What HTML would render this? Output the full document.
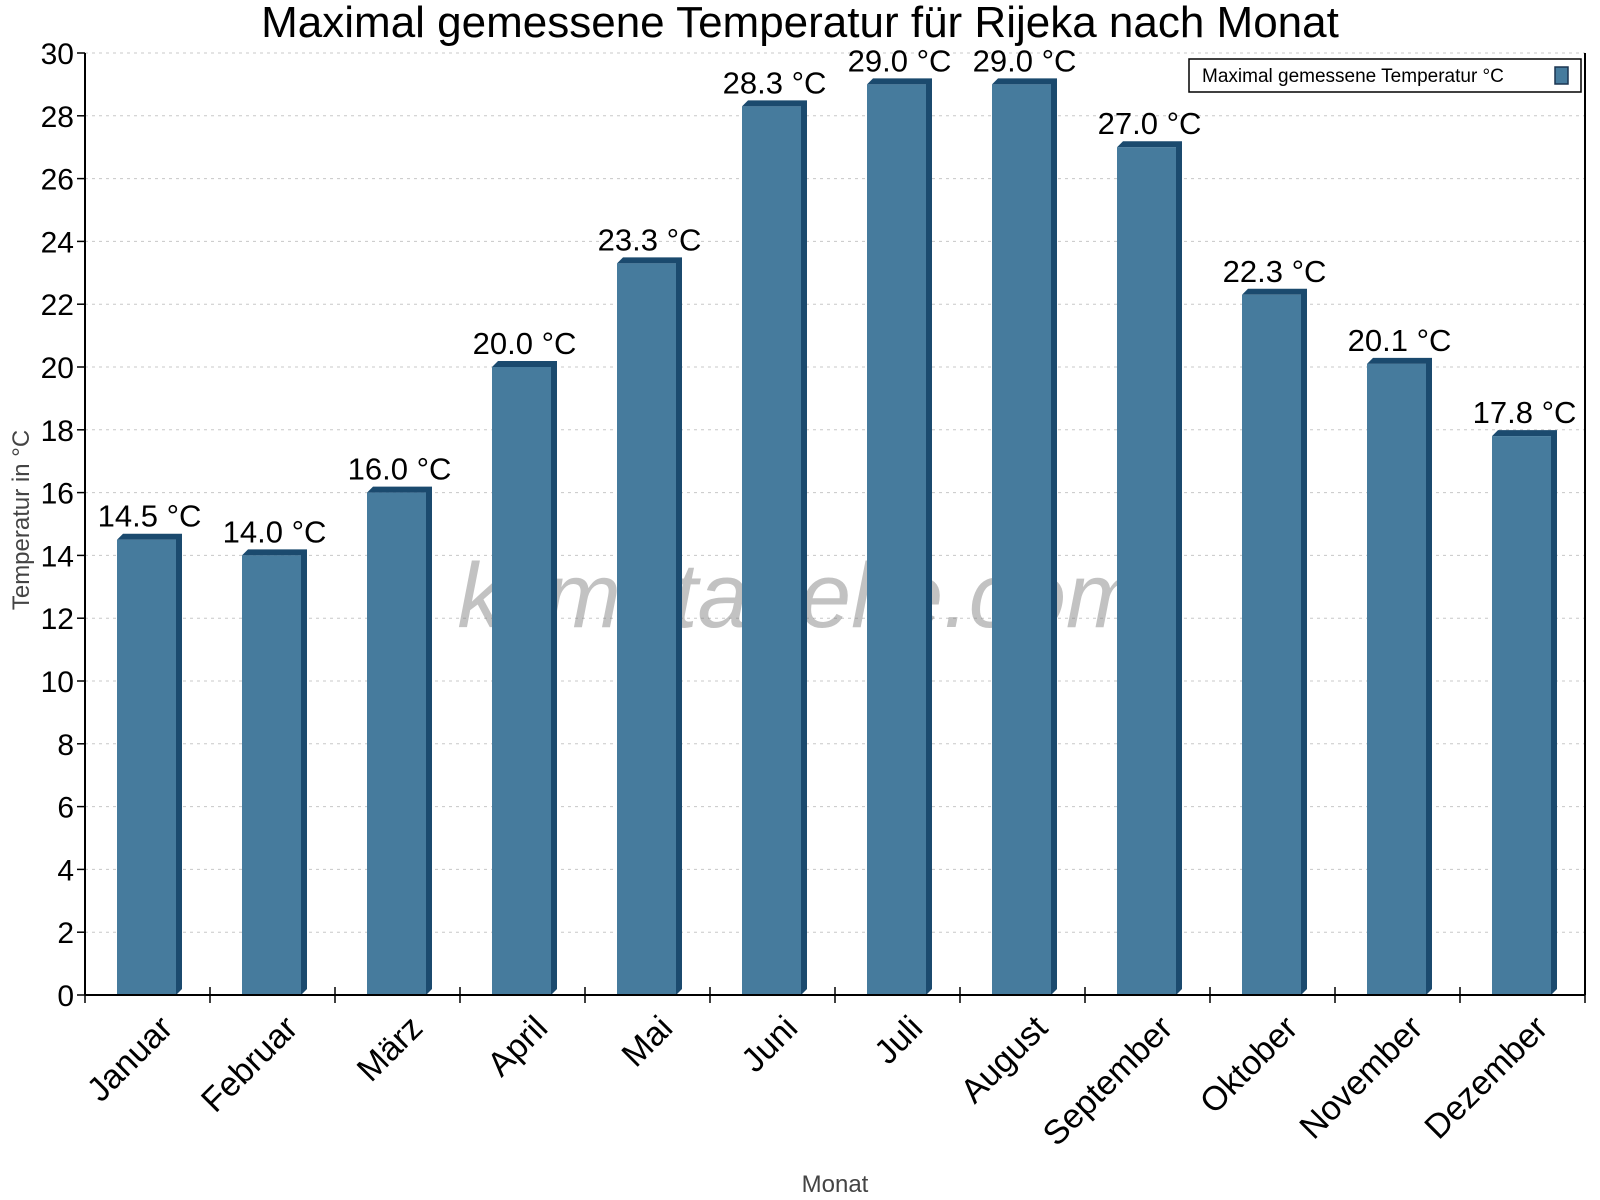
<!DOCTYPE html>
<html><head><meta charset="utf-8"><style>
html,body{margin:0;padding:0;background:#fff;}
svg{display:block;font-family:"Liberation Sans",sans-serif;}
</style></head><body>
<svg id="chart" width="1600" height="1200" viewBox="0 0 1600 1200">
<text x="800" y="37" font-size="44" text-anchor="middle">Maximal gemessene Temperatur für Rijeka nach Monat</text>
<g id="grid"></g>
<text x="800" y="627" font-size="92" font-style="italic" fill="#777" fill-opacity="0.45" text-anchor="middle">klimatabelle.com</text>
<g id="bars"></g>
<g id="axes"></g>
<text transform="translate(29,520) rotate(-90)" font-size="24" fill="#444" text-anchor="middle">Temperatur in °C</text>
<text x="835" y="1192" font-size="24" fill="#444" text-anchor="middle">Monat</text>
<g>
<rect x="1189" y="59" width="392" height="33" fill="#fff" stroke="#000" stroke-width="1.5"/>
<text x="1202" y="82" font-size="19">Maximal gemessene Temperatur °C</text>
<rect x="1555" y="67" width="13" height="17" fill="#467b9d" stroke="#1b3550" stroke-width="1.5"/>
</g>
</svg>
<script>
const months = ["Januar","Februar","März","April","Mai","Juni","Juli","August","September","Oktober","November","Dezember"];
const temps = [14.5,14.0,16.0,20.0,23.3,28.3,29.0,29.0,27.0,22.3,20.1,17.8];
const yTicks = [0,2,4,6,8,10,12,14,16,18,20,22,24,26,28,30];
const NS="http://www.w3.org/2000/svg";
const x0=85,x1=1585,y0=995,yTop=53,yMax=30;
const band=(x1-x0)/months.length;
function yScale(v){return y0-(v/yMax)*(y0-yTop);}
function xScale(i){return x0+i*band;}
function mk(tag,attrs,parent){const e=document.createElementNS(NS,tag);for(const k in attrs)e.setAttribute(k,attrs[k]);parent.appendChild(e);return e;}
const grid=document.getElementById('grid'),bars=document.getElementById('bars'),axes=document.getElementById('axes');
yTicks.forEach(t=>{
  const y=yScale(t);
  if(t>0){const g=mk('line',{x1:x0,x2:x1,y1:y,y2:y,stroke:'#c8c8c8','stroke-dasharray':'3,4'},grid);
  
  }
  const tk=mk('line',{x1:x0-8,x2:x0,y1:y,y2:y,stroke:'#000','stroke-width':1.5},axes);
  
  
  const lb=mk('text',{x:x0-11,y:y+11,'font-size':30,'text-anchor':'end'},axes);
  lb.textContent=t;
  
  
});
temps.forEach((v,i)=>{
  const bx=xScale(i)+32,bw=59,d=6,top=yScale(v);
  const g=mk('g',{},bars);
  
  
  mk('polygon',{points:`${bx},${top} ${bx+d},${top-d} ${bx+bw+d},${top-d} ${bx+bw+d},${y0-d} ${bx+bw},${y0} ${bx+bw},${top}`,fill:'#1b4a6e'},g);
  mk('rect',{x:bx,y:top,width:bw,height:y0-top,fill:'#467b9d'},g);
  const t=mk('text',{x:bx+(bw+d)/2,y:top-13,'font-size':31,'text-anchor':'middle'},bars);
  t.textContent=v.toFixed(1)+' °C';
  
  
  const cx=xScale(i)+band/2+10;
  const ml=mk('text',{transform:`translate(${cx},${y0+18}) rotate(-45)`,'font-size':34,'text-anchor':'end','dominant-baseline':'hanging'},axes);
  ml.textContent=months[i];
  
  
});
for(let i=0;i<=months.length;i++){
  const x=xScale(i);
  const tk=mk('line',{x1:x,x2:x,y1:y0-8,y2:y0+8,stroke:'#000','stroke-width':1.5},axes);
  
  
}
const xa=mk('line',{x1:x0,x2:x1,y1:y0,y2:y0,stroke:'#000','stroke-width':2},axes);


const ya=mk('line',{x1:x0,x2:x0,y1:yTop,y2:y0,stroke:'#000','stroke-width':2},axes);


const ra=mk('line',{x1:x1,x2:x1,y1:yTop,y2:y0,stroke:'#000','stroke-width':2},axes);


</script>
</body></html>
